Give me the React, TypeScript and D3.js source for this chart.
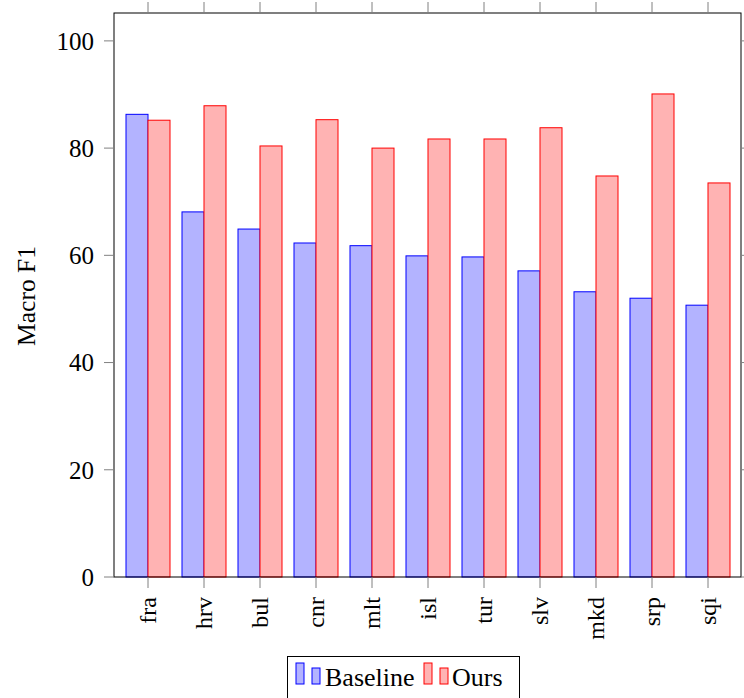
import React, { useRef, useEffect } from 'react';
import * as d3 from 'd3';

const languages = ['fra', 'hrv', 'bul', 'cnr', 'mlt', 'isl', 'tur', 'slv', 'mkd', 'srp', 'sqi'];
const baseline = [86.3, 68.1, 64.9, 62.3, 61.8, 59.9, 59.7, 57.1, 53.2, 52.0, 50.7];
const ours = [85.2, 87.9, 80.4, 85.3, 80.0, 81.7, 81.7, 83.8, 74.8, 90.1, 73.5];
const yTicks = [0, 20, 40, 60, 80, 100];

const W = 744;
const H = 698;

const App: React.FC = () => {
    const svgRef = useRef<SVGSVGElement | null>(null);

    useEffect(() => {
        const svg = d3.select(svgRef.current);
        svg.selectAll('*').remove();

        const font = '"Liberation Serif", "Times New Roman", serif';
        const left = 114, right = 741, top = 13, bottom = 577;

        // x: category centres every 56px, fra at 148
        const x = d3.scalePoint<string>()
            .domain(languages)
            .range([148, 708]);
        const barW = 22;

        const y = d3.scaleLinear()
            .domain([0, 105.2])
            .range([bottom, top]);

        const g = svg.append('g');

        // bars
        languages.forEach((lang, i) => {
            const cx = x(lang) as number;
            g.append('rect')
                .attr('x', cx - barW)
                .attr('y', y(baseline[i]))
                .attr('width', barW)
                .attr('height', y(0) - y(baseline[i]))
                .attr('fill', '#b3b3ff')
                .attr('stroke', '#0000ff')
                .attr('stroke-width', 1);
            g.append('rect')
                .attr('x', cx)
                .attr('y', y(ours[i]))
                .attr('width', barW)
                .attr('height', y(0) - y(ours[i]))
                .attr('fill', '#ffb3b3')
                .attr('stroke', '#ff0000')
                .attr('stroke-width', 1);
        });

        // frame
        g.append('rect')
            .attr('x', left)
            .attr('y', top)
            .attr('width', right - left)
            .attr('height', bottom - top)
            .attr('fill', 'none')
            .attr('stroke', '#000')
            .attr('stroke-width', 1);

        // y ticks (left and right, outside)
        yTicks.forEach(t => {
            g.append('line')
                .attr('x1', left - 10).attr('x2', left)
                .attr('y1', y(t)).attr('y2', y(t))
                .attr('stroke', '#808080');
            g.append('line')
                .attr('x1', right).attr('x2', right + 10)
                .attr('y1', y(t)).attr('y2', y(t))
                .attr('stroke', '#808080');
            g.append('text')
                .attr('x', 94)
                .attr('y', y(t))
                .attr('dy', '0.35em')
                .attr('text-anchor', 'end')
                .attr('font-family', font)
                .attr('font-size', 25)
                .text(t);
        });

        // x ticks (top and bottom, outside)
        languages.forEach(lang => {
            const cx = x(lang) as number;
            g.append('line')
                .attr('x1', cx).attr('x2', cx)
                .attr('y1', bottom).attr('y2', bottom + 11)
                .attr('stroke', '#808080');
            g.append('line')
                .attr('x1', cx).attr('x2', cx)
                .attr('y1', top - 11).attr('y2', top)
                .attr('stroke', '#808080');
            g.append('text')
                .attr('transform', `translate(${cx},597) rotate(-90)`)
                .attr('text-anchor', 'end')
                .attr('dy', '0.33em')
                .attr('font-family', font)
                .attr('font-size', 24)
                .text(lang);
        });

        // y axis label
        g.append('text')
            .attr('transform', `translate(26,${(top + bottom) / 2 + 1}) rotate(-90)`)
            .attr('text-anchor', 'middle')
            .attr('dy', '0.35em')
            .attr('font-family', font)
            .attr('font-size', 25.5)
            .text('Macro F1');

        // legend
        const lg = g.append('g');
        lg.append('rect')
            .attr('x', 287.5).attr('y', 656.5)
            .attr('width', 232).attr('height', 50)
            .attr('fill', '#fff')
            .attr('stroke', '#000');
        const entries = [
            { name: 'Baseline', fill: '#b3b3ff', stroke: '#0000ff', x0: 296, tx: 325 },
            { name: 'Ours', fill: '#ffb3b3', stroke: '#ff0000', x0: 424, tx: 452 },
        ];
        entries.forEach(e => {
            lg.append('rect')
                .attr('x', e.x0).attr('y', 663)
                .attr('width', 8).attr('height', 21)
                .attr('fill', e.fill).attr('stroke', e.stroke);
            lg.append('rect')
                .attr('x', e.x0 + 16).attr('y', 668)
                .attr('width', 8).attr('height', 16)
                .attr('fill', e.fill).attr('stroke', e.stroke);
            lg.append('text')
                .attr('x', e.tx)
                .attr('y', 686)
                .attr('font-family', font)
                .attr('font-size', 26)
                .text(e.name);
        });
    }, []);

    return (
        <svg
            ref={svgRef}
            width={W}
            height={H}
            style={{ position: 'absolute', left: 0, top: 0, background: '#fff' }}
        />
    );
};

export default App;
